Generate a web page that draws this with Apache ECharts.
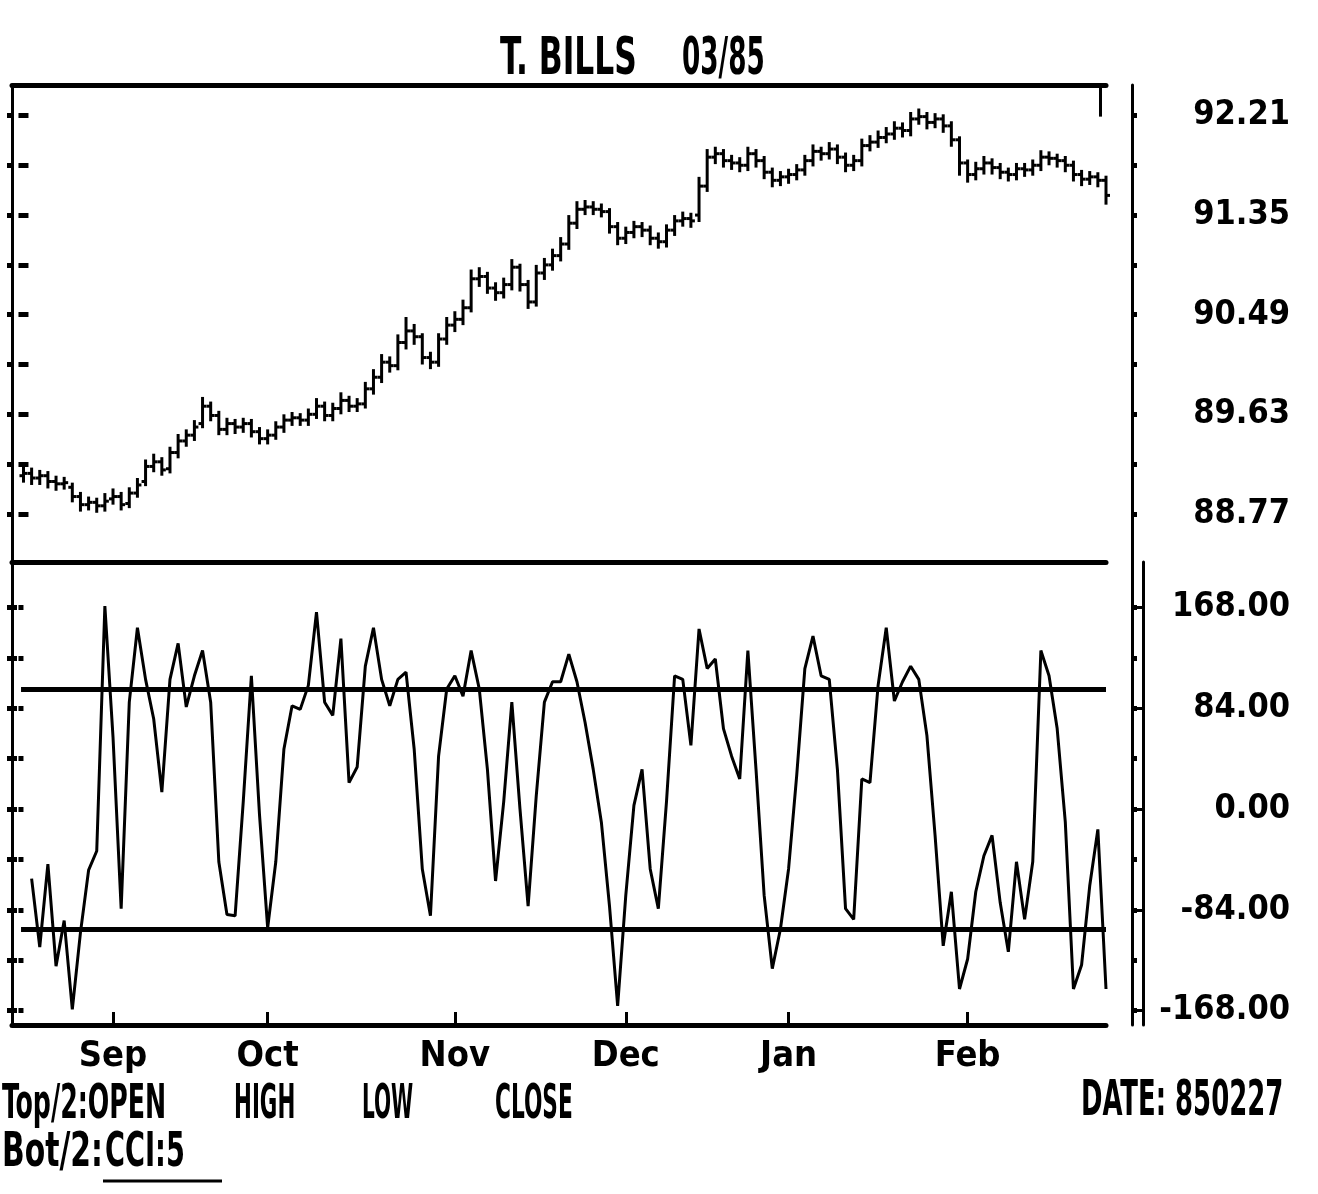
<!DOCTYPE html>
<html>
<head>
<meta charset="utf-8">
<script src="https://cdn.jsdelivr.net/npm/echarts@6/dist/echarts.min.js"></script>
<style>html,body{margin:0;padding:0;background:#fff;}#chart{width:1318px;height:1194px;}</style>
</head>
<body>
<div id="chart"></div>
<script>
// ---------------- DATA ----------------
const monthLabels = ['Sep', 'Oct', 'Nov', 'Dec', 'Jan', 'Feb'];
const monthStartIndex = [11, 30, 53, 74, 94, 116]; // trading-day index of first session of each month

const priceTickValues = [88.77, 89.20, 89.63, 90.06, 90.49, 90.92, 91.35, 91.78, 92.21];
const priceTickLabels = [88.77, 89.63, 90.49, 91.35, 92.21];
const cciTickValues = [-168, -126, -84, -42, 0, 42, 84, 126, 168];
const cciTickLabels = [-168, -84, 0, 84, 168];
const cciBands = [100, -100];

const opens = [89.10,89.12,89.08,89.10,89.05,89.03,89.00,88.92,88.85,88.87,
88.84,88.90,88.92,88.86,88.95,89.05,89.18,89.22,89.16,89.30,
89.40,89.45,89.55,89.70,89.62,89.50,89.55,89.52,89.55,89.48,
89.42,89.45,89.52,89.58,89.60,89.58,89.63,89.70,89.62,89.68,
89.75,89.70,89.72,89.85,89.95,90.08,90.05,90.25,90.35,90.30,
90.12,90.08,90.28,90.40,90.45,90.55,90.80,90.82,90.72,90.68,
90.75,90.90,90.75,90.60,90.85,90.92,91.00,91.10,91.28,91.40,
91.42,91.40,91.38,91.25,91.15,91.20,91.25,91.22,91.15,91.12,
91.22,91.30,91.32,91.35,91.60,91.85,91.88,91.82,91.80,91.78,
91.88,91.82,91.72,91.65,91.68,91.70,91.74,91.82,91.90,91.88,
91.92,91.85,91.78,91.82,91.95,91.98,92.02,92.05,92.10,92.08,
92.18,92.20,92.15,92.18,92.12,92.00,91.80,91.70,91.75,91.80,
91.76,91.72,91.70,91.75,91.74,91.78,91.85,91.84,91.82,91.78,
91.70,91.66,91.68,91.65];
const highs = [89.18,89.17,89.15,89.14,89.10,89.09,89.04,88.96,88.92,88.91,
88.95,88.99,88.96,89.00,89.08,89.24,89.29,89.26,89.35,89.46,
89.50,89.58,89.78,89.74,89.66,89.60,89.59,89.60,89.59,89.52,
89.50,89.57,89.63,89.65,89.64,89.68,89.77,89.74,89.73,89.82,
89.79,89.77,89.91,90.02,90.15,90.13,90.32,90.47,90.41,90.33,
90.17,90.33,90.47,90.52,90.62,90.88,90.90,90.86,90.77,90.81,
90.97,90.93,90.79,90.92,90.98,91.06,91.16,91.35,91.47,91.48,
91.47,91.45,91.41,91.29,91.25,91.30,91.29,91.26,91.20,91.27,
91.35,91.38,91.37,91.68,91.92,91.94,91.92,91.87,91.85,91.94,
91.92,91.86,91.76,91.73,91.75,91.79,91.87,91.96,91.94,91.98,
91.96,91.89,91.87,92.01,92.04,92.08,92.11,92.16,92.15,92.24,
92.27,92.24,92.23,92.22,92.16,92.03,91.83,91.81,91.86,91.84,
91.80,91.76,91.80,91.80,91.83,91.91,91.90,91.88,91.86,91.82,
91.74,91.73,91.72,91.69];
const lows = [89.04,89.02,89.02,88.99,88.97,88.98,88.87,88.79,88.80,88.78,
88.79,88.85,88.80,88.82,88.91,89.01,89.13,89.10,89.12,89.25,
89.35,89.40,89.51,89.57,89.45,89.45,89.46,89.47,89.43,89.37,
89.37,89.41,89.47,89.53,89.53,89.53,89.59,89.57,89.57,89.63,
89.65,89.65,89.68,89.80,89.90,89.99,90.01,90.19,90.23,90.06,
90.02,90.04,90.23,90.34,90.40,90.51,90.73,90.67,90.61,90.63,
90.70,90.69,90.54,90.56,90.79,90.87,90.95,91.05,91.23,91.35,
91.35,91.33,91.19,91.09,91.10,91.15,91.16,91.09,91.06,91.07,
91.17,91.25,91.24,91.29,91.55,91.79,91.76,91.74,91.72,91.73,
91.76,91.66,91.59,91.60,91.62,91.65,91.69,91.77,91.82,91.83,
91.79,91.72,91.73,91.77,91.90,91.93,91.97,92.00,92.02,92.03,
92.13,92.09,92.10,92.06,91.94,91.69,91.63,91.65,91.70,91.70,
91.66,91.64,91.65,91.68,91.69,91.73,91.78,91.76,91.72,91.64,
91.60,91.61,91.59,91.44];
const closes = [89.12,89.08,89.10,89.05,89.03,89.04,88.92,88.85,88.87,88.84,
88.88,88.92,88.85,88.95,89.02,89.18,89.22,89.15,89.30,89.40,
89.45,89.52,89.70,89.62,89.50,89.55,89.52,89.55,89.48,89.42,
89.45,89.52,89.58,89.60,89.58,89.63,89.70,89.62,89.68,89.75,
89.70,89.72,89.85,89.95,90.08,90.05,90.25,90.35,90.30,90.12,
90.08,90.28,90.40,90.45,90.55,90.80,90.82,90.72,90.68,90.75,
90.90,90.75,90.60,90.85,90.92,91.00,91.10,91.28,91.40,91.42,
91.40,91.38,91.25,91.15,91.20,91.25,91.22,91.15,91.12,91.22,
91.30,91.32,91.30,91.60,91.85,91.88,91.82,91.80,91.78,91.88,
91.82,91.72,91.65,91.68,91.70,91.74,91.82,91.90,91.88,91.92,
91.85,91.78,91.82,91.95,91.98,92.02,92.05,92.10,92.08,92.18,
92.20,92.15,92.18,92.12,92.00,91.80,91.70,91.75,91.80,91.76,
91.72,91.70,91.75,91.74,91.78,91.85,91.84,91.82,91.78,91.70,
91.66,91.68,91.65,91.52];
const cci = [null,-58,-115,-46,-131,-93,-167,-103,-51,-35,
169,60,-83,89,151,108,75,14,108,138,
85,111,132,89,-44,-88,-89,6,111,-5,
-99,-44,50,86,83,103,164,89,78,142,
22,35,119,151,108,86,108,114,50,-50,
-89,44,100,111,94,132,100,33,-60,6,
89,0,-81,11,89,106,106,129,106,72,
33,-11,-81,-164,-72,3,33,-50,-83,6,
111,108,53,150,117,125,67,44,25,132,
33,-72,-133,-100,-50,28,117,144,111,108,
33,-83,-92,25,22,103,151,90,106,119,
108,61,-22,-114,-69,-150,-125,-69,-39,-22,
-78,-119,-44,-92,-44,132,111,67,-11,-150,
-130,-64,-17,-150];

// ---------------- CHART ----------------
const FONT = "'DejaVu Sans Condensed', 'Liberation Sans Narrow', 'Liberation Sans', sans-serif";
const BLACK = '#000';
const X_MIN = -1.41, X_MAX = 133;
const P_MIN = 88.355, P_MAX = 92.473;
const C_MIN = -180, C_MAX = 205.8;

const ohlcData = closes.map((c, i) => [i, opens[i], highs[i], lows[i], c]);
const cciData = cci.map((v, i) => [i, v]);

function fmt2(v) { return Number(v).toFixed(2); }

function yAxisPair(grid, pos, offset, min, max, ticks, labels, withLabels) {
  const main = {
    gridIndex: grid, type: 'value', position: pos, offset: offset, min: min, max: max,
    axisLine: { show: true, onZero: false, lineStyle: { color: BLACK, width: 3 } },
    axisTick: { show: true, inside: false, length: 5, customValues: ticks, lineStyle: { color: BLACK, width: 5 } },
    axisLabel: withLabels ? {
      show: true, customValues: labels, formatter: fmt2, color: BLACK,
      fontFamily: FONT, fontWeight: 'bold', fontSize: 34, align: 'right', margin: 158,
      padding: [0, 0, 20, 0]
    } : { show: false },
    splitLine: { show: false }
  };
  const inner = {
    gridIndex: grid, type: 'value', position: pos, offset: offset, min: min, max: max,
    axisLine: { show: false },
    axisTick: { show: true, inside: true, length: 5, customValues: ticks, lineStyle: { color: BLACK, width: 5 } },
    axisLabel: { show: false }, splitLine: { show: false }
  };
  return [main, inner];
}

function txt(str, x, y, size, sx, sy) {
  return { type: 'text', x: x, y: y, scaleX: sx, scaleY: sy,
    style: { text: str, font: 'bold ' + size + 'px ' + FONT, fill: BLACK, verticalAlign: 'top' } };
}

const chart = echarts.init(document.getElementById('chart'), null, { renderer: 'canvas' });

const option = {
  backgroundColor: '#fff',
  animation: false,
  grid: [
    { left: 12, right: 212, top: 85, height: 477 },
    { left: 12, right: 212, top: 562, height: 463 }
  ],
  xAxis: [
    { gridIndex: 0, type: 'value', min: X_MIN, max: X_MAX, position: 'bottom',
      axisLine: { show: true, onZero: false, lineStyle: { color: BLACK, width: 5 } },
      axisTick: { show: false }, axisLabel: { show: false }, splitLine: { show: false } },
    { gridIndex: 0, type: 'value', min: X_MIN, max: X_MAX, position: 'top',
      axisLine: { show: true, onZero: false, lineStyle: { color: BLACK, width: 5 } },
      axisTick: { show: false }, axisLabel: { show: false }, splitLine: { show: false } },
    { gridIndex: 1, type: 'value', min: X_MIN, max: X_MAX, position: 'bottom',
      axisLine: { show: true, onZero: false, lineStyle: { color: BLACK, width: 5 } },
      axisTick: { show: true, inside: true, length: 13, customValues: monthStartIndex, lineStyle: { color: BLACK, width: 3 } },
      axisLabel: { show: true, customValues: monthStartIndex, color: BLACK, fontFamily: FONT, fontWeight: 'bold', fontSize: 36, margin: 14,
        formatter: v => monthLabels[monthStartIndex.indexOf(Math.round(v))] || '' },
      splitLine: { show: false } }
  ],
  yAxis: [
    ...yAxisPair(0, 'right', 26, P_MIN, P_MAX, priceTickValues, priceTickLabels, true),
    ...yAxisPair(0, 'left', 0, P_MIN, P_MAX, priceTickValues, priceTickLabels, false),
    ...yAxisPair(1, 'right', 26, C_MIN, C_MAX, cciTickValues, cciTickLabels, true),
    ...yAxisPair(1, 'left', 0, C_MIN, C_MAX, cciTickValues, cciTickLabels, false),
    { gridIndex: 1, type: 'value', position: 'right', offset: 37, min: C_MIN, max: C_MAX,
      axisLine: { show: true, onZero: false, lineStyle: { color: BLACK, width: 3 } },
      axisTick: { show: true, inside: true, length: 11, customValues: cciTickLabels, lineStyle: { color: BLACK, width: 3 } },
      axisLabel: { show: false }, splitLine: { show: false } }
  ],
  series: [
    {
      name: 'OHLC', type: 'custom', xAxisIndex: 0, yAxisIndex: 0,
      data: ohlcData, encode: { x: 0, y: [1, 2, 3, 4] },
      renderItem: function (params, api) {
        const x = api.value(0);
        const o = api.coord([x, api.value(1)]);
        const h = api.coord([x, api.value(2)]);
        const l = api.coord([x, api.value(3)]);
        const c = api.coord([x, api.value(4)]);
        const st = { stroke: BLACK, lineWidth: 3 };
        return { type: 'group', children: [
          { type: 'line', shape: { x1: h[0], y1: h[1], x2: l[0], y2: l[1] }, style: st },
          { type: 'line', shape: { x1: o[0] - 4, y1: o[1], x2: o[0], y2: o[1] }, style: st },
          { type: 'line', shape: { x1: c[0], y1: c[1], x2: c[0] + 4, y2: c[1] }, style: st }
        ] };
      },
      markLine: {
        silent: true, symbol: ['none', 'none'], label: { show: false },
        lineStyle: { color: BLACK, width: 3, type: 'solid' },
        data: [[{ coord: [132.3, P_MAX] }, { coord: [132.3, 92.2] }]]
      }
    },
    {
      name: 'CCI:5', type: 'line', xAxisIndex: 2, yAxisIndex: 4,
      data: cciData, showSymbol: false, connectNulls: false,
      lineStyle: { color: BLACK, width: 3 },
      markLine: {
        silent: true, symbol: ['none', 'none'], label: { show: false },
        lineStyle: { color: BLACK, width: 5, type: 'solid' },
        data: cciBands.map(v => [{ coord: [-0.3, v] }, { coord: [X_MAX, v] }])
      }
    }
  ],
  graphic: [
    txt('T. BILLS', 500, 34, 40, 0.87, 1.3),
    txt('03/85', 682, 34, 40, 0.73, 1.3),
    txt('Top/2:OPEN', 2, 1081, 36, 0.78, 1.35),
    txt('HIGH', 234, 1081, 36, 0.66, 1.35),
    txt('LOW', 362, 1081, 36, 0.62, 1.35),
    txt('CLOSE', 495, 1081, 36, 0.67, 1.35),
    txt('Bot/2:', 2, 1129, 36, 0.92, 1.35),
    txt('CCI:5', 105, 1129, 36, 0.84, 1.35),
    { type: 'line', shape: { x1: 103, y1: 1181, x2: 222, y2: 1181 }, style: { stroke: BLACK, lineWidth: 3 } },
    txt('DATE: 850227', 1081, 1077, 36, 0.8, 1.4)
  ]
};
chart.setOption(option);
</script>
</body>
</html>
